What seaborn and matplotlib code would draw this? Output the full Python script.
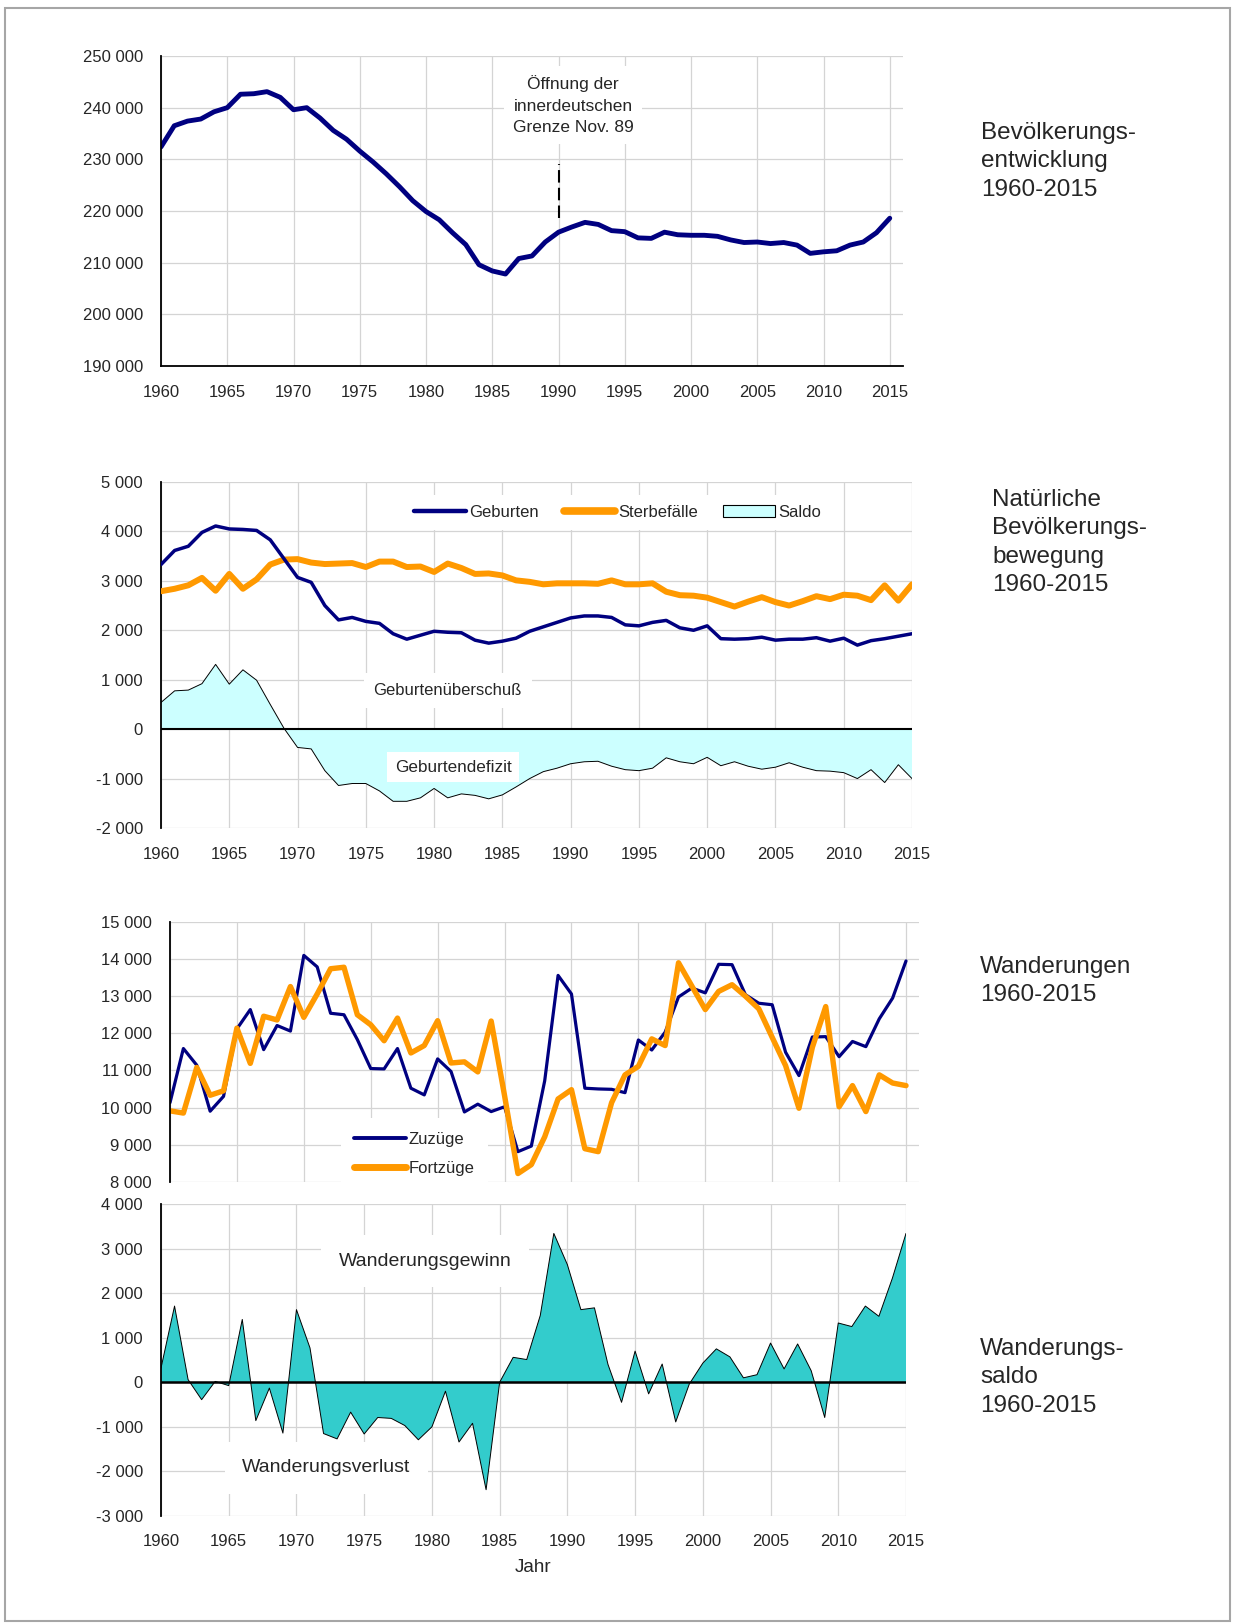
import numpy as np
import pandas as pd
import matplotlib
matplotlib.use("Agg")
import matplotlib.pyplot as plt
from matplotlib.ticker import FuncFormatter
from matplotlib.patches import Patch, Rectangle
from matplotlib.lines import Line2D
import seaborn as sns

# --- Daten ---
jahre = list(range(1960, 2016))

bevoelkerung = [232400, 236500, 237400, 237800, 239200, 240000, 242600, 242700, 243100, 242000,
                239600, 240000, 238000, 235600, 233900, 231600, 229500, 227200, 224700, 222000,
                219900, 218300, 215800, 213500, 209600, 208400, 207800, 210800, 211300, 214000,
                215900, 216900, 217800, 217400, 216200, 216000, 214800, 214700, 215900, 215400,
                215300, 215300, 215100, 214400, 213900, 214000, 213700, 213900, 213400, 211800,
                212100, 212300, 213400, 214000, 215800, 218600]

geburten = [3330, 3615, 3700, 3980, 4110, 4050, 4040, 4020, 3830, 3450,
            3070, 2970, 2500, 2210, 2260, 2180, 2140, 1930, 1820, 1900,
            1980, 1960, 1950, 1800, 1740, 1780, 1840, 1980, 2070, 2160,
            2250, 2290, 2290, 2260, 2110, 2090, 2160, 2200, 2050, 2000,
            2090, 1830, 1820, 1830, 1860, 1800, 1820, 1820, 1850, 1780,
            1840, 1700, 1790, 1830, 1880, 1930]

sterbefaelle = [2790, 2840, 2910, 3060, 2800, 3140, 2840, 3030, 3330, 3430,
                3440, 3370, 3340, 3350, 3360, 3280, 3390, 3390, 3280, 3290,
                3180, 3350, 3260, 3140, 3150, 3110, 3010, 2980, 2930, 2950,
                2950, 2950, 2940, 3010, 2930, 2930, 2950, 2780, 2710, 2700,
                2660, 2570, 2480, 2580, 2670, 2570, 2500, 2590, 2690, 2630,
                2720, 2700, 2610, 2910, 2600, 2930]

saldo_natuerlich = [540, 775, 790, 920, 1310, 910, 1200, 990, 500, 20,
                    -370, -400, -840, -1140, -1100, -1100, -1250, -1460, -1460, -1390,
                    -1200, -1390, -1310, -1340, -1410, -1330, -1170, -1000, -860, -790,
                    -700, -660, -650, -750, -820, -840, -790, -580, -660, -700,
                    -570, -740, -660, -750, -810, -770, -680, -770, -840, -850,
                    -880, -1000, -820, -1080, -720, -1000]

zuzuege = [10130, 11590, 11140, 9900, 10300, 12120, 12640, 11560, 12210, 12060,
           14100, 13790, 12540, 12500, 11830, 11050, 11040, 11590, 10520, 10340,
           11310, 10970, 9880, 10090, 9890, 10020, 8810, 8960, 10720, 13560,
           13060, 10520, 10500, 10490, 10400, 11820, 11550, 12030, 12980, 13220,
           13090, 13860, 13850, 13040, 12810, 12770, 11490, 10860, 11900, 11910,
           11370, 11780, 11640, 12390, 12950, 13950]

fortzuege = [9910, 9850, 11080, 10330, 10450, 12140, 11190, 12460, 12360, 13260,
             12430, 13060, 13740, 13780, 12500, 12230, 11800, 12410, 11470, 11670,
             12340, 11200, 11230, 10960, 12330, 10320, 8220, 8460, 9210, 10230,
             10480, 8890, 8810, 10130, 10880, 11110, 11850, 11670, 13900, 13270,
             12640, 13130, 13310, 13000, 12660, 11890, 11130, 9980, 11620, 12720,
             10020, 10590, 9890, 10880, 10660, 10590]

wanderungssaldo = [320, 1710, 60, -390, 20, -75, 1410, -860, -130, -1140,
                   1630, 770, -1150, -1270, -670, -1160, -790, -810, -970, -1290,
                   -1000, -200, -1340, -920, -2410, 0, 560, 510, 1500, 3340,
                   2640, 1630, 1670, 400, -450, 700, -260, 410, -890, -40,
                   430, 750, 570, 100, 170, 880, 300, 860, 260, -790,
                   1330, 1250, 1710, 1480, 2340, 3340]

grenzoeffnung = 1990
grenz_linie = [218700, 229100]

df = pd.DataFrame({"Jahr": jahre, "Bevoelkerung": bevoelkerung, "Geburten": geburten,
                   "Sterbefaelle": sterbefaelle, "Saldo": saldo_natuerlich,
                   "Zuzuege": zuzuege, "Fortzuege": fortzuege, "Wanderungssaldo": wanderungssaldo})

NAVY = "#000080"
ORANGE = "#ff9900"
CYAN_HELL = "#ccffff"
TUERKIS = "#33cccc"
GRID = "#d4d4d4"

sns.set_style("white")
plt.rcParams["font.family"] = ["Liberation Sans", "DejaVu Sans"]

W, H = 1233, 1623
fig = plt.figure(figsize=(W / 100, H / 100), dpi=100)


def add_ax(x0, y0, x1, y1):
    # Pixelbox (links, oben, rechts, unten) -> Figurenkoordinaten
    return fig.add_axes([x0 / W, 1 - y1 / H, (x1 - x0) / W, (y1 - y0) / H])


def tausender(v, pos):
    return f"{v:,.0f}".replace(",", " ")


def gestalten(ax, yticks, xlim, unten_schwarz=False, xlabels=True, xpad=14):
    ax.set_xlim(*xlim)
    ax.set_ylim(yticks[0], yticks[-1])
    ax.set_yticks(yticks)
    ax.set_xticks(range(1960, 2016, 5))
    ax.grid(True, color=GRID, lw=0.9)
    ax.set_axisbelow(True)
    for s in ["top", "right", "bottom"]:
        ax.spines[s].set_visible(False)
    ax.spines["left"].set_color("black")
    ax.spines["left"].set_linewidth(1.3)
    if unten_schwarz:
        ax.spines["bottom"].set_visible(True)
        ax.spines["bottom"].set_color("black")
        ax.spines["bottom"].set_linewidth(1.3)
    ax.tick_params(axis="y", length=0, labelsize=12, pad=13)
    ax.tick_params(axis="x", length=0, labelsize=12, pad=xpad, labelbottom=xlabels)
    ax.yaxis.set_major_formatter(FuncFormatter(tausender))
    ax.set_xlabel("")
    ax.set_ylabel("")


def titel(x, y, text):
    fig.text(x / W, 1 - y / H, text, fontsize=17.5, ha="left", va="top", linespacing=1.38)


# --- 1. Bevölkerungsentwicklung ---
ax1 = add_ax(161, 56, 903, 366)
sns.lineplot(data=df, x="Jahr", y="Bevoelkerung", color=NAVY, lw=3.5, ax=ax1)
ax1.vlines(grenzoeffnung, grenz_linie[0], grenz_linie[1], color="black", lw=1.5,
           linestyles=(0, (6, 2.5)))
ax1.text(1991.1, 240500, "Öffnung der\ninnerdeutschen\nGrenze Nov. 89", fontsize=12.5,
         ha="center", va="center", linespacing=1.55,
         bbox=dict(boxstyle="square,pad=0.5", facecolor="white", edgecolor="none"))
gestalten(ax1, list(range(190000, 250001, 10000)), (1960, 2016), unten_schwarz=True)
titel(981, 122, "Bevölkerungs-\nentwicklung\n1960-2015")

# --- 2. Natürliche Bevölkerungsbewegung ---
ax2 = add_ax(161, 482, 912, 828)
ax2.fill_between(df["Jahr"], df["Saldo"], 0, facecolor=CYAN_HELL, edgecolor="none", zorder=2)
sns.lineplot(data=df, x="Jahr", y="Saldo", color="black", lw=0.7, ax=ax2, zorder=3)
ax2.axhline(0, color="black", lw=1.5, zorder=4)
sns.lineplot(data=df, x="Jahr", y="Sterbefaelle", color=ORANGE, lw=4.3, ax=ax2, zorder=5)
sns.lineplot(data=df, x="Jahr", y="Geburten", color=NAVY, lw=2.5, ax=ax2, zorder=6)
ax2.text(1981, 790, "Geburtenüberschuß", fontsize=12, ha="center", va="center", zorder=7,
         bbox=dict(boxstyle="square,pad=0.6", facecolor="white", edgecolor="none"))
ax2.text(1981.4, -770, "Geburtendefizit", fontsize=12.3, ha="center", va="center", zorder=7,
         bbox=dict(boxstyle="square,pad=0.45", facecolor="white", edgecolor="none"))
handles2 = [Line2D([], [], color=NAVY, lw=3.2, solid_capstyle="round"),
            Line2D([], [], color=ORANGE, lw=5.5, solid_capstyle="round"),
            Patch(facecolor=CYAN_HELL, edgecolor="black", lw=0.8)]
leg2 = ax2.legend(handles2, ["Geburten", "Sterbefälle", "Saldo"], ncol=3, loc="center",
                  bbox_to_anchor=(0.608, 0.913), fontsize=12, frameon=True, fancybox=False,
                  handlelength=3.1, handletextpad=0.2, columnspacing=1.5, borderpad=0.6)
leg2.get_frame().set_edgecolor("none")
leg2.get_frame().set_facecolor("white")
leg2.get_frame().set_alpha(1)
leg2.set_zorder(8)
gestalten(ax2, list(range(-2000, 5001, 1000)), (1960, 2015))
titel(992, 489, "Natürliche\nBevölkerungs-\nbewegung\n1960-2015")

# --- 3. Wanderungen ---
ax3 = add_ax(170, 922, 919.4, 1181.7)
sns.lineplot(data=df, x="Jahr", y="Zuzuege", color=NAVY, lw=2.3, ax=ax3)
sns.lineplot(data=df, x="Jahr", y="Fortzuege", color=ORANGE, lw=3.9, ax=ax3)
handles3 = [Line2D([], [], color=NAVY, lw=2.8, solid_capstyle="round"),
            Line2D([], [], color=ORANGE, lw=5, solid_capstyle="round")]
leg3 = ax3.legend(handles3, ["Zuzüge", "Fortzüge"], loc="center", bbox_to_anchor=(0.326, 0.107),
                  fontsize=12, frameon=True, fancybox=False, handlelength=3.1,
                  handletextpad=0.15, labelspacing=0.85, borderpad=0.8)
leg3.get_frame().set_edgecolor("none")
leg3.get_frame().set_facecolor("white")
leg3.get_frame().set_alpha(1)
gestalten(ax3, list(range(8000, 15001, 1000)), (1960, 2016), xlabels=False)
titel(980, 956, "Wanderungen\n1960-2015")

# --- 4. Wanderungssaldo ---
ax4 = add_ax(161, 1204, 906, 1516)
ax4.fill_between(df["Jahr"], df["Wanderungssaldo"], 0, facecolor=TUERKIS, edgecolor="none", zorder=2)
sns.lineplot(data=df, x="Jahr", y="Wanderungssaldo", color="black", lw=0.7, ax=ax4, zorder=3)
ax4.axhline(0, color="black", lw=1.8, zorder=4)
ax4.text(1979.5, 2720, "Wanderungsgewinn", fontsize=14, ha="center", va="center", zorder=7,
         bbox=dict(boxstyle="square,pad=0.9", facecolor="white", edgecolor="none"))
ax4.text(1972.2, -1920, "Wanderungsverlust", fontsize=14, ha="center", va="center", zorder=7,
         bbox=dict(boxstyle="square,pad=0.9", facecolor="white", edgecolor="none"))
gestalten(ax4, list(range(-3000, 4001, 1000)), (1960, 2015), xpad=13)
ax4.set_xlabel("Jahr", fontsize=13.5, labelpad=7)
titel(980, 1338, "Wanderungs-\nsaldo\n1960-2015")

# Rahmen um die gesamte Grafik
fig.patches.append(Rectangle((5 / W, 2 / H), (1230 - 5) / W, (1618 - 5) / H, transform=fig.transFigure,
                             fill=False, edgecolor="#a6a6a6", lw=1.5))

fig.savefig("out.png", dpi=100)
